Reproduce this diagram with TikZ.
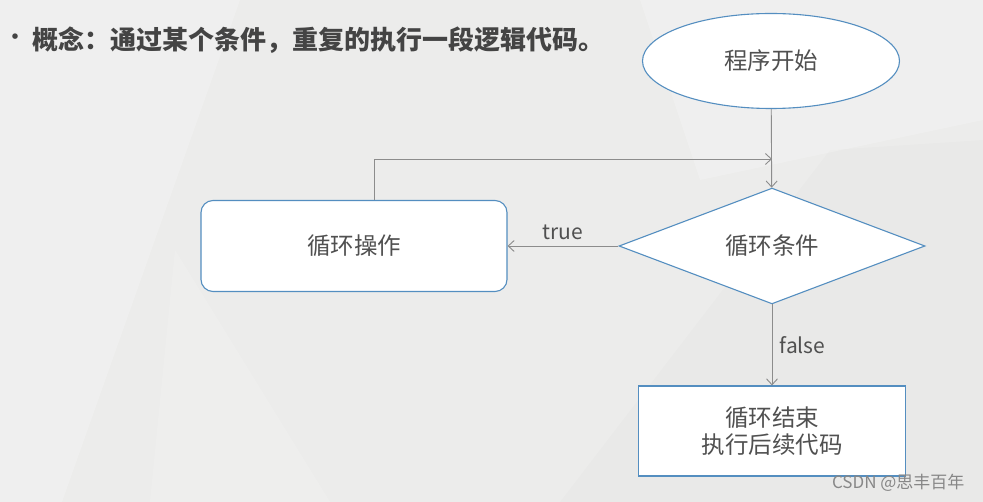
\documentclass[tikz,border=0pt]{standalone}
\usepackage{fontspec}
\setmainfont{Noto Sans CJK SC}
\newfontfamily\cjk{Noto Sans CJK SC}
\usetikzlibrary{arrows.meta, shapes.geometric, positioning}
\definecolor{slidegray}{RGB}{236,236,235}
\definecolor{boxblue}{RGB}{84,142,192}
\definecolor{linegray}{RGB}{140,140,140}
\definecolor{textgray}{RGB}{80,80,80}
\definecolor{titlegray}{RGB}{68,68,68}
\definecolor{markgray}{RGB}{135,135,135}

\begin{document}
\begin{tikzpicture}[x=1pt, y=-1pt,
  flowbox/.style={draw=boxblue, line width=1.1pt, fill=white, font=\fontsize{23.5}{27}\selectfont, text=textgray, align=center},
  startnode/.style={flowbox, ellipse, minimum width=257pt, minimum height=95pt},
  condnode/.style={flowbox, diamond, inner sep=0pt, minimum width=306pt, minimum height=115pt},
  opnode/.style={flowbox, rounded corners=12pt, minimum width=306pt, minimum height=91pt},
  endnode/.style={flowbox, rectangle, minimum width=267pt, minimum height=90pt},
  flow/.style={draw=linegray, line width=0.9pt, -{Straight Barb[length=6pt, width=11pt]}},
  flowlabel/.style={font=\fontsize{21}{24}\selectfont, text=textgray},
]
% Slide background
\fill[slidegray] (0,0) rectangle (983,502);
\fill[white, opacity=0.2] (0,0) -- (240,0) -- (62,502) -- (0,502) -- cycle;
\fill[white, opacity=0.15] (150,502) -- (175,250) -- (330,502) -- cycle;
\fill[black, opacity=0.012] (560,502) -- (830,150) -- (983,140) -- (983,502) -- cycle;
\fill[white, opacity=0.2] (640,0) -- (983,0) -- (983,120) -- (700,180) -- cycle;

% Title
\node[text=titlegray, font=\fontsize{26}{28}\selectfont, inner sep=0pt] (bullet) at (15,40) {•};
\node[anchor=west, text=titlegray, font=\cjk\bfseries\fontsize{26}{28}\selectfont, inner sep=0pt] (title) at (32,40) {概念：通过某个条件，重复的执行一段逻辑代码。};

% Flow chart nodes
\node[startnode] (start) at (771,61) {程序开始};
\node[condnode] (cond) at (772,246) {循环条件};
\node[opnode] (op) at (354,246) {循环操作};
\node[endnode] (stop) at (772,431) {循环结束\\执行后续代码};
\coordinate (join) at (772,159);

% Connectors
\draw[flow] (start) -- (cond);
\draw[flow] ([xshift=20pt]op.north) |- (join);
\draw[flow] (cond.west) -- node[flowlabel, above=2pt] (truelabel) {true} (op.east);
\draw[flow] (cond.south) -- node[flowlabel, right=4pt] (falselabel) {false} (stop.north);

% Watermark
\node[anchor=east, text=markgray, font=\fontsize{17}{20}\selectfont] (mark) at (968,483) {CSDN @思丰百年};
\end{tikzpicture}
\end{document}
